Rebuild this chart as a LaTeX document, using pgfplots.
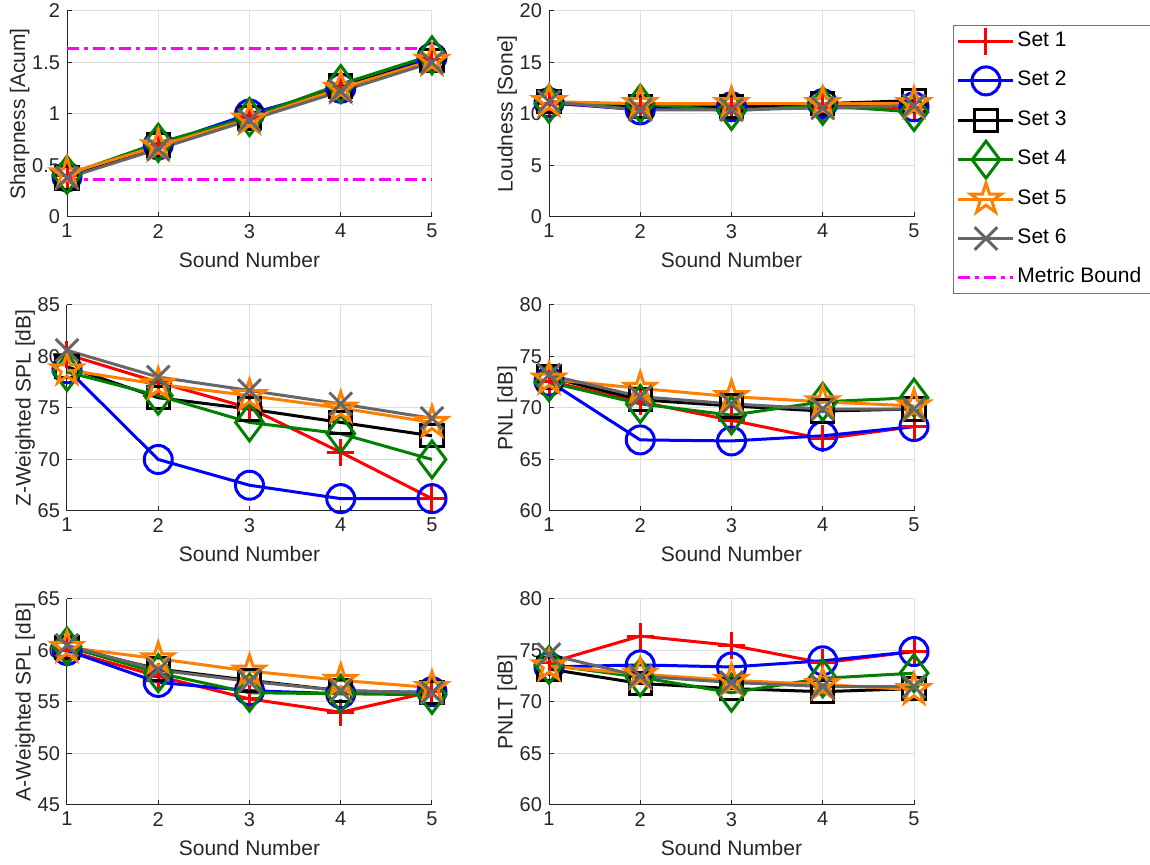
\documentclass[border=0pt]{standalone}
\usepackage{pgfplots}
\pgfplotsset{compat=1.18}
\usepackage{pgfplotstable}
\usepackage{fontspec}
\setmainfont{Liberation Sans}
\definecolor{txt}{RGB}{38,38,38}
\definecolor{mgreen}{RGB}{0,128,0}
\definecolor{morange}{RGB}{255,128,0}
\definecolor{mgray}{RGB}{102,102,102}
\definecolor{mmag}{RGB}{255,0,255}

\pgfdeclareplotmark{pentagram}{%
  \pgfpathmoveto{\pgfpointpolar{90}{\pgfplotmarksize}}%
  \pgfpathlineto{\pgfpointpolar{126}{0.382\pgfplotmarksize}}%
  \pgfpathlineto{\pgfpointpolar{162}{\pgfplotmarksize}}%
  \pgfpathlineto{\pgfpointpolar{198}{0.382\pgfplotmarksize}}%
  \pgfpathlineto{\pgfpointpolar{234}{\pgfplotmarksize}}%
  \pgfpathlineto{\pgfpointpolar{270}{0.382\pgfplotmarksize}}%
  \pgfpathlineto{\pgfpointpolar{306}{\pgfplotmarksize}}%
  \pgfpathlineto{\pgfpointpolar{342}{0.382\pgfplotmarksize}}%
  \pgfpathlineto{\pgfpointpolar{18}{\pgfplotmarksize}}%
  \pgfpathlineto{\pgfpointpolar{54}{0.382\pgfplotmarksize}}%
  \pgfpathclose
  \pgfusepathqstroke
}

\pgfplotstableread{
x s1 s2 s3 s4 s5 s6
1 0.40 0.39 0.38 0.41 0.42 0.38
2 0.69 0.70 0.70 0.72 0.69 0.66
3 0.97 1.00 0.96 0.97 0.95 0.94
4 1.25 1.25 1.27 1.29 1.25 1.22
5 1.53 1.55 1.52 1.57 1.52 1.50
}\tSharp
\pgfplotstableread{
x s1 s2 s3 s4 s5 s6
1 11.0 11.1 11.2 11.0 11.2 11.2
2 10.6 10.4 10.7 11.0 11.0 10.4
3 10.5 10.7 10.7 10.3 11.0 10.4
4 10.6 11.0 11.0 10.8 11.0 10.6
5 10.6 10.7 11.3 10.2 11.0 10.8
}\tLoud
\pgfplotstableread{
x s1 s2 s3 s4 s5 s6
1 80.2 78.8 79.0 78.5 78.7 80.6
2 77.5 70.0 76.0 76.2 77.3 78.0
3 75.0 67.5 74.9 73.6 76.2 76.7
4 70.7 66.2 73.6 72.5 75.0 75.4
5 66.2 66.2 72.3 70.0 73.6 74.0
}\tZspl
\pgfplotstableread{
x s1 s2 s3 s4 s5 s6
1 72.6 72.6 73.0 72.5 72.8 73.2
2 70.6 66.9 70.8 70.4 71.9 71.1
3 68.8 66.8 70.2 69.3 71.1 70.4
4 67.0 67.3 69.7 70.6 70.6 69.9
5 68.2 68.2 69.9 71.0 70.2 69.9
}\tPnl
\pgfplotstableread{
x s1 s2 s3 s4 s5 s6
1 60.0 60.0 60.3 60.4 60.3 60.5
2 57.5 56.9 58.2 57.8 59.2 58.1
3 55.3 56.1 57.1 55.9 58.0 57.0
4 54.0 55.8 56.1 55.8 57.1 56.1
5 56.0 56.0 55.9 55.7 56.4 55.9
}\tAspl
\pgfplotstableread{
x s1 s2 s3 s4 s5 s6
1 73.8 73.4 73.2 73.6 73.5 74.6
2 76.4 73.6 71.8 72.4 72.7 72.5
3 75.5 73.4 71.3 70.9 72.1 71.9
4 73.8 74.0 71.0 72.3 71.7 71.5
5 74.9 74.9 71.3 72.8 71.2 71.5
}\tPnlt

\pgfplotsset{
  base/.style={
    scale only axis, width=182.5pt, height=103pt,
    anchor=south west,
    xmin=1, xmax=5, xtick={1,2,3,4,5},
    axis x line*=bottom, axis y line*=left,
    tick align=inside, major tick length=2.5pt,
    grid=major, major grid style={draw=black!13, line width=0.5pt},
    axis line style={draw=txt, line width=0.5pt},
    tick style={draw=txt, line width=0.5pt},
    tick label style={font=\fontsize{10}{12}\selectfont, text=txt},
    label style={font=\fontsize{10.5}{12}\selectfont, text=txt},
    ylabel style={yshift=-5.5pt},
    xlabel={Sound Number},
    /pgf/number format/assume math mode=true,
    every axis plot/.append style={line width=1.5pt, mark options={solid}},
    clip=false,
  },
  set1/.style={color=red, mark=+, mark size=6.75pt},
  set2/.style={color=blue, mark=o, mark size=7pt},
  set3/.style={color=black, mark=square, mark size=5.6pt},
  set4/.style={color=mgreen, mark=diamond, mark size=9.25pt},
  set5/.style={color=morange, mark=pentagram, mark size=8pt},
  set6/.style={color=mgray, mark=x, mark size=8pt},
  bound/.style={color=mmag, mark=none, dash pattern=on 6pt off 2.5pt on 2pt off 2.5pt},
}
\newcommand{\allsets}[1]{%
  \addplot[set1] table[x=x,y=s1]{#1};
  \addplot[set2] table[x=x,y=s2]{#1};
  \addplot[set3] table[x=x,y=s3]{#1};
  \addplot[set4] table[x=x,y=s4]{#1};
  \addplot[set5] table[x=x,y=s5]{#1};
  \addplot[set6] table[x=x,y=s6]{#1};
}

\begin{document}
\begin{tikzpicture}
\path[use as bounding box] (0,0) rectangle (575pt,432.5pt);

\begin{axis}[base, at={(33.5pt,324pt)}, ymin=0, ymax=2, ytick={0,0.5,1,1.5,2},
  ylabel={Sharpness [Acum]},
  legend cell align=left,
  legend image code/.code={\draw[mark repeat=2,mark phase=2,overlay] plot coordinates {(0pt,0pt) (13.75pt,0pt) (27.5pt,0pt)}; \path[draw=none,fill=none] (0pt,-2pt) rectangle (27.5pt,2pt);},
  legend style={at={(2.4274,0.932)}, anchor=north west, draw=black!55, line width=0.5pt, fill=white,
    font=\fontsize{10.5}{12}\selectfont, row sep=7.7pt, inner xsep=2.5pt, inner ysep=2pt,
    nodes={inner xsep=2pt, inner ysep=1pt, text height=7.5pt, text depth=2.5pt, anchor=west}},
]
\allsets{\tSharp}
\addplot[bound] coordinates {(1,1.64) (5,1.64)};
\addplot[bound, forget plot] coordinates {(1,0.36) (5,0.36)};
\legend{Set 1, Set 2, Set 3, Set 4, Set 5, Set 6, Metric Bound}
\end{axis}

\begin{axis}[base, at={(274.5pt,324pt)}, ymin=0, ymax=20, ytick={0,5,10,15,20},
  ylabel={Loudness [Sone]}]
\allsets{\tLoud}
\end{axis}

\begin{axis}[base, at={(33.5pt,177pt)}, ymin=65, ymax=85, ytick={65,70,75,80,85},
  ylabel={Z-Weighted SPL [dB]}]
\allsets{\tZspl}
\end{axis}

\begin{axis}[base, at={(274.5pt,177pt)}, ymin=60, ymax=80, ytick={60,65,70,75,80},
  ylabel={PNL [dB]}]
\allsets{\tPnl}
\end{axis}

\begin{axis}[base, at={(33.5pt,30pt)}, ymin=45, ymax=65, ytick={45,50,55,60,65},
  ylabel={A-Weighted SPL [dB]}]
\allsets{\tAspl}
\end{axis}

\begin{axis}[base, at={(274.5pt,30pt)}, ymin=60, ymax=80, ytick={60,65,70,75,80},
  ylabel={PNLT [dB]}]
\allsets{\tPnlt}
\end{axis}
\end{tikzpicture}
\end{document}
